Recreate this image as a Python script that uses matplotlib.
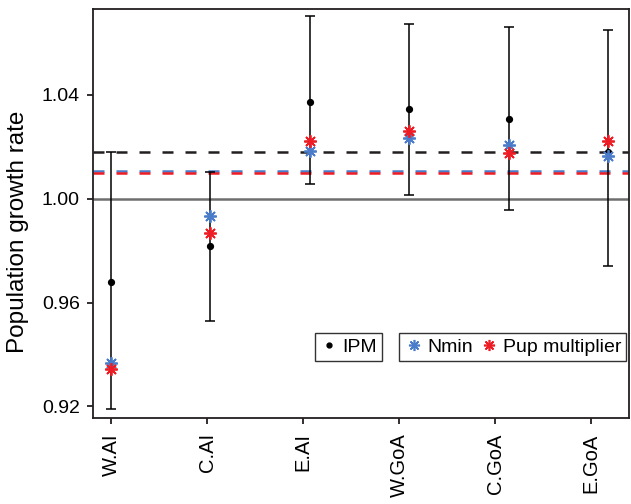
import numpy as np
import matplotlib.pyplot as plt
from matplotlib.lines import Line2D

plt.rcParams['font.family'] = ['Liberation Sans', 'DejaVu Sans']

# Data
regions = ['W.AI', 'C.AI', 'E.AI', 'W.GoA', 'C.GoA', 'E.GoA']
ipm = [0.968, 0.9816, 1.0372, 1.0344, 1.0308, 1.0179]
ipm_low = [0.9188, 0.9529, 1.0057, 1.0013, 0.9955, 0.974]
ipm_high = [1.0181, 1.0104, 1.0704, 1.0672, 1.0663, 1.065]
nmin = [0.9366, 0.9932, 1.0183, 1.0234, 1.0208, 1.0163]
pup = [0.9343, 0.9868, 1.0221, 1.0260, 1.0176, 1.0221]

ref_line = 1.0
ipm_mean_line = 1.0181
nmin_mean_line = 1.0108
pup_mean_line = 1.0100

x = np.arange(len(regions))
ipm = np.array(ipm)
yerr = [ipm - np.array(ipm_low), np.array(ipm_high) - ipm]

fig = plt.figure(figsize=(6.31, 5.04), dpi=100)
ax = fig.add_axes([0.1474, 0.1706, 0.8494, 0.8114])

ax.axhline(ref_line, color='#6e6e6e', lw=1.8, zorder=1)
ax.axhline(ipm_mean_line, color='#231f20', lw=1.8, dashes=(4.4, 4.8), zorder=1)
ax.axhline(nmin_mean_line, color='#4a7cc9', lw=1.8, dashes=(4.4, 4.8), zorder=1)
ax.axhline(pup_mean_line, color='#ee1c24', lw=1.8, dashes=(4.4, 4.8), zorder=1)

ax.errorbar(x, ipm, yerr=yerr, fmt='none', ecolor='black', elinewidth=1.1,
            capsize=3.6, capthick=1.1, zorder=2)
ax.plot(x, ipm, 'o', color='black', ms=4.2, zorder=3)
ast = (8, 2, 0)
ax.plot(x, nmin, ls='none', marker=ast, color='#4a7cc9', ms=9, mew=1.3, zorder=4)
ax.plot(x, pup, ls='none', marker=ast, color='#ee1c24', ms=9, mew=1.3, zorder=4)

ax.set_xlim(-0.181, 5.21)
ax.set_ylim(0.9155, 1.0731)
ax.set_xticks(x * 0.966)
ax.set_xticklabels(regions, rotation=90, fontsize=14.5)
ax.set_yticks([0.92, 0.96, 1.00, 1.04])
ax.set_yticklabels(['0.92', '0.96', '1.00', '1.04'], fontsize=14)
ax.set_ylabel('Population growth rate', fontsize=17.5)
ax.yaxis.set_label_coords(-0.12, 0.455)
ax.tick_params(direction='out', length=4, width=1.3, colors='#231f20', labelcolor='black')
ax.tick_params(axis='x', pad=7)
ax.tick_params(axis='y', pad=5.5)
for s in ax.spines.values():
    s.set_linewidth(1.3)
    s.set_color('#231f20')

h_ipm = [Line2D([], [], ls='none', marker='o', color='black', ms=3.5)]
leg1 = ax.legend(h_ipm, ['IPM'], loc='center left', bbox_to_anchor=(0.414, 0.174),
                 fontsize=14, frameon=True, fancybox=False, edgecolor='black',
                 handlelength=1.0, handletextpad=0.15, borderpad=0.25, borderaxespad=0)
leg1.get_frame().set_linewidth(1.0)
ax.add_artist(leg1)
h2 = [Line2D([], [], ls='none', marker=ast, color='#4a7cc9', ms=8, mew=1.2),
      Line2D([], [], ls='none', marker=ast, color='#ee1c24', ms=8, mew=1.2)]
leg2 = ax.legend(h2, ['Nmin', 'Pup multiplier'], loc='center left', bbox_to_anchor=(0.571, 0.174),
                 ncol=2, fontsize=14, frameon=True, fancybox=False, edgecolor='black',
                 handlelength=1.0, handletextpad=0.2, columnspacing=0.35, borderpad=0.25,
                 borderaxespad=0)
leg2.get_frame().set_linewidth(1.0)

fig.savefig('out.png', dpi=100)
